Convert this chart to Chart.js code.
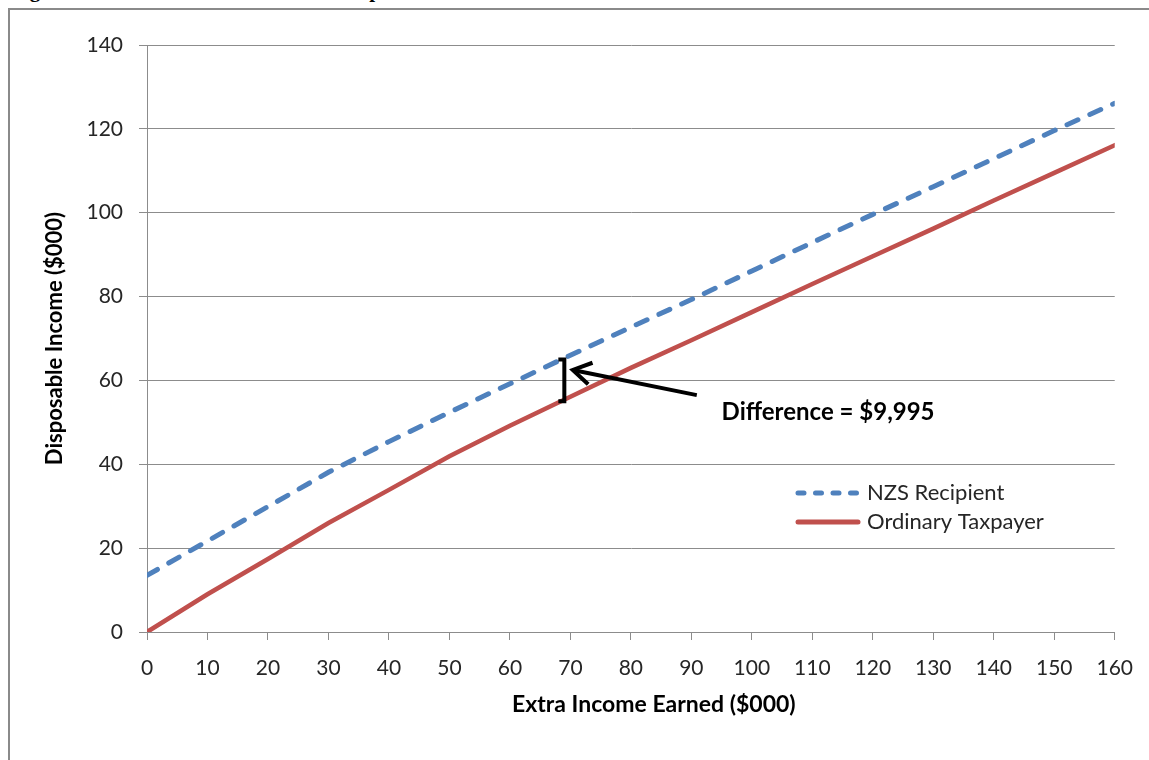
<!DOCTYPE html>
<html>
<head>
<meta charset="utf-8">
<script src="https://cdn.jsdelivr.net/npm/chart.js@4/dist/chart.umd.min.js"></script>
<style>
  html, body { margin: 0; padding: 0; background: #ffffff; overflow: hidden; }
  body { width: 1149px; height: 760px; position: relative; }
  #caption {
    position: absolute; left: 11px; top: -20px; white-space: nowrap;
    font: bold 21px "Liberation Serif", "Times New Roman", serif; line-height: 21px; color: #000;
  }
  #frame {
    position: absolute; left: 8px; top: 8px; width: 1300px; height: 900px;
    border-left: 2px solid #8a8a8a; border-top: 2px solid #8a8a8a;
    background: #ffffff;
  }
  #chart { position: absolute; left: 0; top: 0; }
</style>
</head>
<body>
<div id="caption">Figure 2a: The current situation and disposable income with NZS</div>
<div id="frame"></div>
<canvas id="chart" width="1149" height="760"></canvas>
<script>
// Extra income earned ($000) on the x axis
const incomeEarned = [0, 10, 20, 30, 40, 50, 60, 70, 80, 90, 100, 110, 120, 130, 140, 150, 160];
// Disposable income ($000) for each group
const nzsRecipient = [13.5, 21.7, 29.9, 38.1, 45.4, 52.4, 59.2, 66.0, 72.7, 79.3, 86.1, 92.9, 99.6, 106.2, 112.9, 119.6, 126.1];
const ordinaryTaxpayer = [0, 9.0, 17.4, 26.0, 33.9, 41.9, 49.2, 56.1, 63.0, 69.6, 76.3, 83.0, 89.6, 96.2, 102.9, 109.5, 116.1];
const seriesNames = ['NZS Recipient', 'Ordinary Taxpayer'];
const xTickValues = [0, 10, 20, 30, 40, 50, 60, 70, 80, 90, 100, 110, 120, 130, 140, 150, 160];
const yTickValues = [0, 20, 40, 60, 80, 100, 120, 140];
const axisTitles = { x: 'Extra Income Earned ($000)', y: 'Disposable Income ($000)' };

// Gap between the two lines at about $70k extra income
const differenceAt = 69;
const differenceTop = 65.0;
const differenceValue = 9.995;
const differenceLabel = 'Difference = $9,995';

const BLUE = '#4f81bd';
const RED = '#c0504d';
const GRID = '#8c8c8c';
const TEXT = '#262626';
const FONT = 'Lato, "Open Sans", sans-serif';

const toPoints = (ys) => incomeEarned.map((x, i) => ({ x, y: ys[i] }));

// Arrow and bracket marking the difference, plus the text label
const differencePlugin = {
  id: 'differenceNote',
  afterDatasetsDraw(chart) {
    const { ctx, scales: { x, y } } = chart;
    ctx.save();
    ctx.strokeStyle = '#000';
    ctx.fillStyle = '#000';
    ctx.lineCap = 'butt';
    ctx.lineJoin = 'miter';

    // bracket "]"
    const bx = x.getPixelForValue(differenceAt);
    const top = y.getPixelForValue(differenceTop);
    const bottom = y.getPixelForValue(differenceTop - differenceValue);
    ctx.lineWidth = 4;
    ctx.beginPath();
    ctx.moveTo(bx - 6, top);
    ctx.lineTo(bx, top);
    ctx.lineTo(bx, bottom);
    ctx.lineTo(bx - 6, bottom);
    ctx.stroke();

    // arrow pointing at the bracket
    const tx = x.getPixelForValue(90.9), ty = y.getPixelForValue(56.5);
    const hx = x.getPixelForValue(70.4), hy = y.getPixelForValue(62.5);
    const ang = Math.atan2(hy - ty, hx - tx);
    ctx.lineWidth = 4;
    ctx.beginPath();
    ctx.moveTo(tx, ty);
    ctx.lineTo(hx, hy);
    ctx.stroke();
    const wing = 21, spread = 0.55;
    ctx.beginPath();
    ctx.moveTo(hx - wing * Math.cos(ang - spread), hy - wing * Math.sin(ang - spread));
    ctx.lineTo(hx, hy);
    ctx.lineTo(hx - wing * Math.cos(ang + spread), hy - wing * Math.sin(ang + spread));
    ctx.stroke();

    // label
    ctx.font = 'bold 24px ' + FONT;
    ctx.textAlign = 'left';
    ctx.textBaseline = 'middle';
    ctx.fillText(differenceLabel, x.getPixelForValue(95.0), y.getPixelForValue(52.5));
    ctx.restore();
  }
};

// Legend inside the plot area and the two axis titles
const legendAndTitlesPlugin = {
  id: 'legendAndTitles',
  afterDraw(chart) {
    const { ctx, chartArea: a } = chart;
    ctx.save();
    const sx0 = a.left + 649, sx1 = a.left + 713, lx = a.left + 720;
    const rows = [
      { y: a.top + 448, color: BLUE, dash: [6, 11.5], width: 5, cap: 'round' },
      { y: a.top + 477, color: RED, dash: [], width: 5, cap: 'round' }
    ];
    rows.forEach((r, i) => {
      ctx.strokeStyle = r.color;
      ctx.lineWidth = r.width;
      ctx.lineCap = r.cap;
      ctx.setLineDash(r.dash);
      ctx.beginPath();
      ctx.moveTo(sx0 + 2, r.y);
      ctx.lineTo(sx1 - 2, r.y);
      ctx.stroke();
      ctx.setLineDash([]);
      ctx.fillStyle = TEXT;
      ctx.font = '22px ' + FONT;
      ctx.textAlign = 'left';
      ctx.textBaseline = 'middle';
      ctx.fillText(seriesNames[i], lx, r.y);
    });

    ctx.fillStyle = '#000';
    ctx.font = 'bold 23px ' + FONT;
    ctx.textAlign = 'center';
    ctx.textBaseline = 'middle';
    ctx.fillText(axisTitles.x, (a.left + a.right) / 2 + 23, 705);
    ctx.font = 'bold 22px ' + FONT;
    ctx.translate(55, (a.top + a.bottom) / 2);
    ctx.rotate(-Math.PI / 2);
    ctx.fillText(axisTitles.y, 0, 0);
    ctx.restore();
  }
};

new Chart(document.getElementById('chart'), {
  type: 'line',
  data: {
    datasets: [
      {
        label: seriesNames[0],
        data: toPoints(nzsRecipient),
        borderColor: BLUE,
        borderWidth: 5,
        borderDash: [12, 13],
        borderCapStyle: 'round',
        pointRadius: 0,
        tension: 0,
        fill: false
      },
      {
        label: seriesNames[1],
        data: toPoints(ordinaryTaxpayer),
        borderColor: RED,
        borderWidth: 4.5,
        borderCapStyle: 'round',
        pointRadius: 0,
        tension: 0,
        fill: false
      }
    ]
  },
  options: {
    responsive: false,
    animation: false,
    devicePixelRatio: 1,
    layout: { padding: { top: 45, right: 34, left: 0, bottom: 0 } },
    plugins: { legend: { display: false }, tooltip: { enabled: false } },
    scales: {
      x: {
        type: 'linear',
        min: 0, max: 160,
        afterFit: (s) => { s.height = 128; },
        afterBuildTicks: (s) => { s.ticks = xTickValues.map(v => ({ value: v })); },
        ticks: { color: TEXT, font: { family: FONT, size: 21 }, padding: 16, maxRotation: 0, autoSkip: false },
        grid: { drawOnChartArea: false, drawTicks: true, tickLength: 8, color: GRID, lineWidth: 1 },
        border: { display: true, color: GRID, width: 1 }
      },
      y: {
        min: 0, max: 140,
        afterFit: (s) => { s.width = 147; },
        afterBuildTicks: (s) => { s.ticks = yTickValues.map(v => ({ value: v })); },
        ticks: { color: TEXT, font: { family: FONT, size: 21 }, padding: 16 },
        grid: { drawOnChartArea: true, drawTicks: true, tickLength: 8, color: GRID, lineWidth: 1 },
        border: { display: true, color: GRID, width: 1 }
      }
    }
  },
  plugins: [differencePlugin, legendAndTitlesPlugin]
});
</script>
</body>
</html>
